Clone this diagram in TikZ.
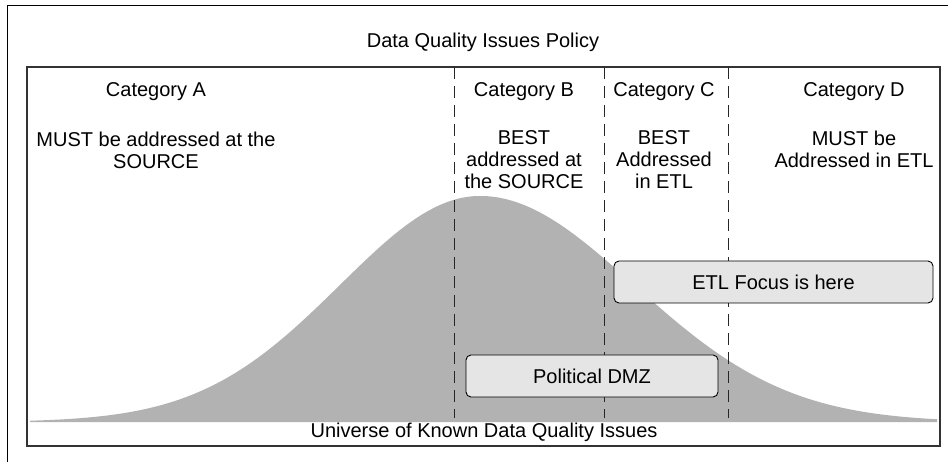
\documentclass[tikz,border=0pt]{standalone}
\usepackage{fontspec}
\setmainfont{Liberation Sans}
\usepackage{tikz}
\usetikzlibrary{positioning}
\definecolor{bellgray}{gray}{0.70}
\definecolor{boxgray}{gray}{0.90}
\tikzset{
  lbl/.style={font=\fontsize{20}{22}\selectfont, align=center, inner sep=0pt},
  zonebox/.style={lbl, draw, rounded corners=5pt, fill=boxgray, line width=0.9pt},
  divider/.style={dash pattern=on 12pt off 7pt, line width=1pt, black!85}
}

\begin{document}
\begin{tikzpicture}[x=1pt,y=-1pt]
\useasboundingbox (0,0) rectangle (948,462);

% frames
\draw[line width=1pt] (7,462) -- (7,6) -- (948,6);
\draw[line width=1.3pt, black!80] (27,67) rectangle (940,446);

% the bell, a little wider on the right
\fill[bellgray] (30,422)
  -- plot[domain=30:480, samples=90, smooth] (\x, {422 - 226*exp(-0.5*((\x-480)/140)^2)})
  -- plot[domain=480:937, samples=90, smooth] (\x, {422 - 226*exp(-0.5*((\x-480)/154)^2)})
  -- (937,422) -- cycle;

% category borders
\draw[divider] (454,67) -- (454,418);
\draw[divider] (604,67) -- (604,418);
\draw[divider] (728,67) -- (728,418);

\draw (483,42) node[lbl] (title) {Data Quality Issues Policy};

\draw (156,92) node[lbl] (cata) {Category A};
\draw (524,92) node[lbl] (catb) {Category B};
\draw (664,92) node[lbl] (catc) {Category C};
\draw (854,92) node[lbl] (catd) {Category D};

\draw (156,150) node[lbl] (texta) {MUST be addressed at the\\SOURCE};
\draw (524,160) node[lbl] (textb) {BEST\\addressed at\\the SOURCE};
\draw (664,160) node[lbl] (textc) {BEST\\Addressed\\in ETL};
\draw (854,149) node[lbl] (textd) {MUST be\\Addressed in ETL};

\draw (773.5,282) node[zonebox, minimum width=319pt, minimum height=42pt] (etl) {ETL Focus is here};
\draw (592,376) node[zonebox, minimum width=252pt, minimum height=42pt] (dmz) {Political DMZ};

\draw (484,432) node[lbl] (universe) {Universe of Known Data Quality Issues};

\end{tikzpicture}
\end{document}
